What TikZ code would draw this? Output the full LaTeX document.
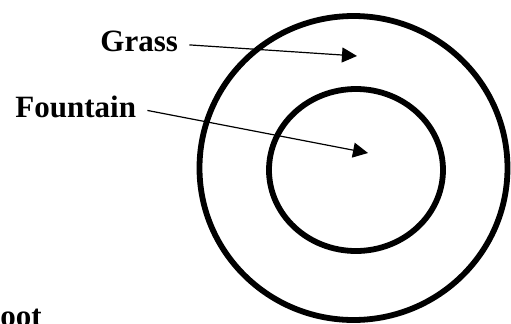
\documentclass[tikz,border=0pt]{standalone}
\usepackage{fontspec}
\setmainfont{Liberation Serif}
\usetikzlibrary{arrows.meta}

\begin{document}
\begin{tikzpicture}[
    x=0.5pt, y=-0.5pt,
    font=\fontsize{15.5}{18}\selectfont\bfseries,
    label/.style={
        anchor=base west,
        inner xsep=5.5pt,
        inner ysep=2pt
    },
    ring/.style={draw, line width=2.9pt},
    arr/.style={-{Triangle[length=7.5pt, width=7.5pt]}, line width=0.6pt}
]
\useasboundingbox (0,0) rectangle (511,323);

% the two rings
\draw[ring] (353.5,168) ellipse [x radius=77pt, y radius=76pt];
\draw[ring] (356,170)   ellipse [x radius=43.5pt, y radius=40.5pt];

\node[label] (grass)    at (89,51)   {Grass};
\node[label] (fountain) at (4,117)   {Fountain};
\node[label] (foot)     at (-11,326) {oot};

\coordinate (grasstip)    at (357,56);
\coordinate (fountaintip) at (368,153);

\draw[arr] ([yshift=-2pt]grass.east)    -- (grasstip);
\draw[arr] ([yshift=-2pt]fountain.east) -- (fountaintip);
\end{tikzpicture}
\end{document}
